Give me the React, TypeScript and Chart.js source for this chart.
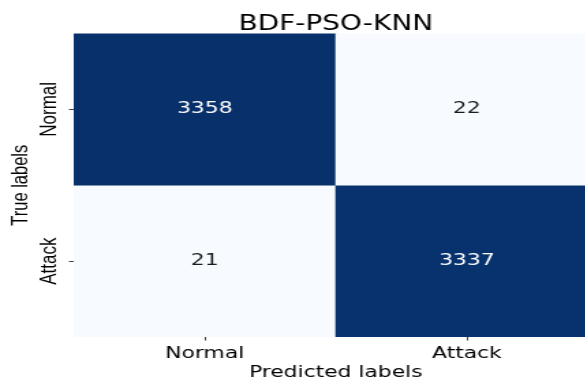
import { useEffect, useRef } from "react";
import { Chart, registerables } from "chart.js";

Chart.register(...registerables);

// Confusion matrix for the BDF-PSO-KNN classifier
const predictedLabels = ["Normal", "Attack"];
const trueLabels = ["Normal", "Attack"];
const normalRow = [3358, 22];
const attackRow = [21, 3337];
const matrix = [normalRow, attackRow];

// Matplotlib "Blues" colour stops
const BLUES = [
  "#f7fbff", "#deebf7", "#c6dbef", "#9ecae1", "#6baed6",
  "#4292c6", "#2171b5", "#08519c", "#08306b",
];

const hexToRgb = (h: string) => [
  parseInt(h.slice(1, 3), 16),
  parseInt(h.slice(3, 5), 16),
  parseInt(h.slice(5, 7), 16),
];

function blues(t: number): string {
  const c = Math.max(0, Math.min(1, t)) * (BLUES.length - 1);
  const i = Math.min(Math.floor(c), BLUES.length - 2);
  const f = c - i;
  const a = hexToRgb(BLUES[i]);
  const b = hexToRgb(BLUES[i + 1]);
  const m = a.map((v, k) => Math.round(v + (b[k] - v) * f));
  return `rgb(${m[0]}, ${m[1]}, ${m[2]})`;
}

const allValues = matrix.flat();
const vmin = Math.min(...allValues);
const vmax = Math.max(...allValues);
const norm = (v: number) => (v - vmin) / (vmax - vmin);

// Figure is drawn narrow, then widened horizontally
const STRETCH = 1.365;
const W = 438;
const H = 383;

const cellText = {
  id: "cellText",
  afterDatasetsDraw(chart: any) {
    const ctx = chart.ctx;
    ctx.save();
    ctx.font = '16px "DejaVu Sans"';
    ctx.textAlign = "center";
    ctx.textBaseline = "middle";
    chart.data.datasets.forEach((_ds: any, di: number) => {
      const meta = chart.getDatasetMeta(di);
      meta.data.forEach((bar: any, ci: number) => {
        const v = matrix[di][ci];
        const { x, y, base } = bar.getProps(["x", "y", "base"], true);
        ctx.fillStyle = norm(v) > 0.5 ? "#ffffff" : "#1a1a1a";
        ctx.fillText(String(v), x, (y + base) / 2);
      });
    });
    ctx.restore();
  },
};

const rowLabels = {
  id: "rowLabels",
  afterDraw(chart: any) {
    const ctx = chart.ctx;
    const ys = chart.scales.y;
    ctx.save();
    ctx.font = '17px "Liberation Sans"';
    ctx.fillStyle = "#000000";
    ctx.textAlign = "center";
    ctx.textBaseline = "middle";
    trueLabels.forEach((lab, r) => {
      const py = ys.getPixelForValue(trueLabels.length - r - 0.5);
      ctx.save();
      ctx.translate(ys.right - 17.5, py);
      ctx.rotate(-Math.PI / 2);
      ctx.fillText(lab, 0, 0);
      ctx.restore();
    });
    ctx.restore();
  },
};

export default function App() {
  const ref = useRef<HTMLCanvasElement>(null);

  useEffect(() => {
    if (!ref.current) return;
    const datasets = matrix.map((row, r) => ({
      label: trueLabels[r],
      data: row.map(() => [trueLabels.length - r - 1, trueLabels.length - r]),
      backgroundColor: row.map((v) => blues(norm(v))),
      borderWidth: 0,
      barPercentage: 1,
      categoryPercentage: 1,
    }));

    const chart = new Chart(ref.current, {
      type: "bar",
      data: { labels: predictedLabels, datasets: datasets as any },
      plugins: [cellText, rowLabels],
      options: {
        animation: false,
        responsive: false,
        devicePixelRatio: 1,
        layout: { padding: 0 },
        plugins: {
          legend: { display: false },
          tooltip: { enabled: false },
          title: {
            display: true,
            text: "BDF-PSO-KNN",
            color: "#000000",
            fullSize: false,
            font: { family: '"DejaVu Sans"', size: 20.5, weight: "normal", lineHeight: 0.9 },
            padding: { top: 15, bottom: 0 },
          },
        },
        scales: {
          x: {
            type: "category",
            stacked: true,
            offset: true,
            afterFit: (s: any) => {
              s.height = 46;
            },
            grid: {
              offset: false,
              drawOnChartArea: false,
              drawTicks: true,
              tickLength: 3.5,
              color: "#444444",
            },
            border: { display: false },
            ticks: {
              color: "#000000",
              padding: 4,
              font: { family: '"DejaVu Sans"', size: 16 },
            },
            title: {
              display: true,
              text: "Predicted labels",
              color: "#000000",
              font: { family: '"DejaVu Sans"', size: 16 },
              padding: { top: 0, bottom: 1 },
            },
          },
          y: {
            type: "linear",
            min: 0,
            max: 2,
            afterFit: (s: any) => {
              s.width = 54;
            },
            afterBuildTicks: (s: any) => {
              s.ticks = [{ value: 0.5 }, { value: 1.5 }];
            },
            grid: {
              drawOnChartArea: false,
              drawTicks: true,
              tickLength: 3.5,
              color: "#444444",
            },
            border: { display: false },
            ticks: { display: false },
            title: {
              display: true,
              text: "True labels",
              color: "#000000",
              font: { family: '"Liberation Sans"', size: 16.5 },
              padding: { top: 5.5, bottom: 0 },
            },
          },
        },
      },
    });
    return () => chart.destroy();
  }, []);

  return (
    <div
      style={{
        position: "fixed",
        left: 0,
        top: 0,
        width: 585,
        height: 383,
        overflow: "hidden",
        background: "#ffffff",
      }}
    >
      <div
        style={{
          width: W,
          height: H,
          transform: `scaleX(${STRETCH})`,
          transformOrigin: "0 0",
        }}
      >
        <canvas ref={ref} width={W} height={H} style={{ display: "block" }} />
      </div>
    </div>
  );
}
